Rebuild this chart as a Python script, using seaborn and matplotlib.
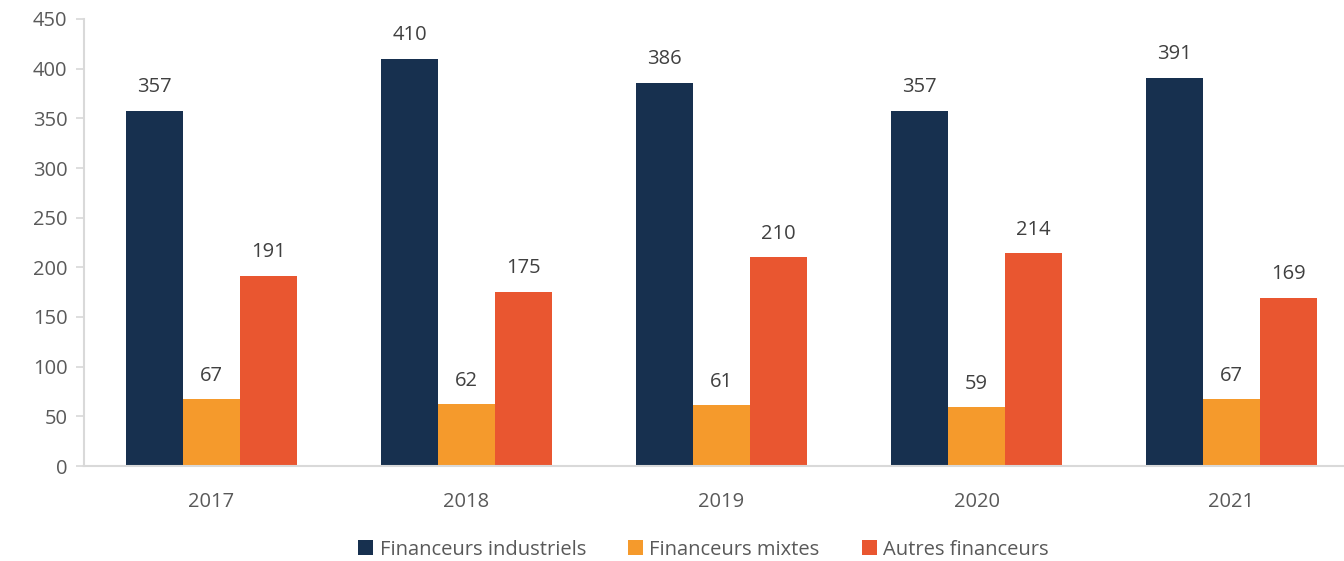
import pandas as pd
import matplotlib.pyplot as plt
import seaborn as sns

years = ["2017", "2018", "2019", "2020", "2021"]
industriels = [357, 410, 386, 357, 391]
mixtes = [67, 62, 61, 59, 67]
autres = [191, 175, 210, 214, 169]
series_names = ["Financeurs industriels", "Financeurs mixtes", "Autres financeurs"]
colors = ["#17304F", "#F59A2C", "#E95630"]

df = pd.DataFrame({
    "year": years * 3,
    "value": industriels + mixtes + autres,
    "series": [s for s in series_names for _ in years],
})

sns.set_theme(style="white")
plt.rcParams["font.family"] = ["Open Sans", "DejaVu Sans"]

fig = plt.figure(figsize=(13.44, 5.61), dpi=100)
ax = fig.add_axes([84 / 1344, 1 - 466 / 561, 1275 / 1344, (466 - 19) / 561])

sns.barplot(data=df, x="year", y="value", hue="series", palette=colors,
            width=0.67, saturation=1, linewidth=0, ax=ax, legend=True)

for cont in ax.containers:
    ax.bar_label(cont, padding=10, fontsize=14.5, color="#404040")

ax.set_xlim(-0.5, 4.5)
ax.set_ylim(0, 450)
ax.set_yticks(range(0, 451, 50))
ax.set_xlabel("")
ax.set_ylabel("")
ax.tick_params(axis="y", left=True, length=6, color="#d9d9d9", labelsize=14.5,
               labelcolor="#595959", pad=6)
ax.tick_params(axis="x", bottom=False, labelsize=14.5, labelcolor="#595959", pad=13)
for side in ["top", "right"]:
    ax.spines[side].set_visible(False)
for side in ["left", "bottom"]:
    ax.spines[side].set_color("#d9d9d9")
    ax.spines[side].set_linewidth(1.5)

ax.legend(loc="lower center", bbox_to_anchor=(0.5 - 18 / 1275, -0.25), ncol=3,
          frameon=False, fontsize=14.5, handlelength=0.75, handleheight=0.75,
          handletextpad=0.3, columnspacing=2.1, labelcolor="#595959")

fig.savefig("out.png", dpi=100)
